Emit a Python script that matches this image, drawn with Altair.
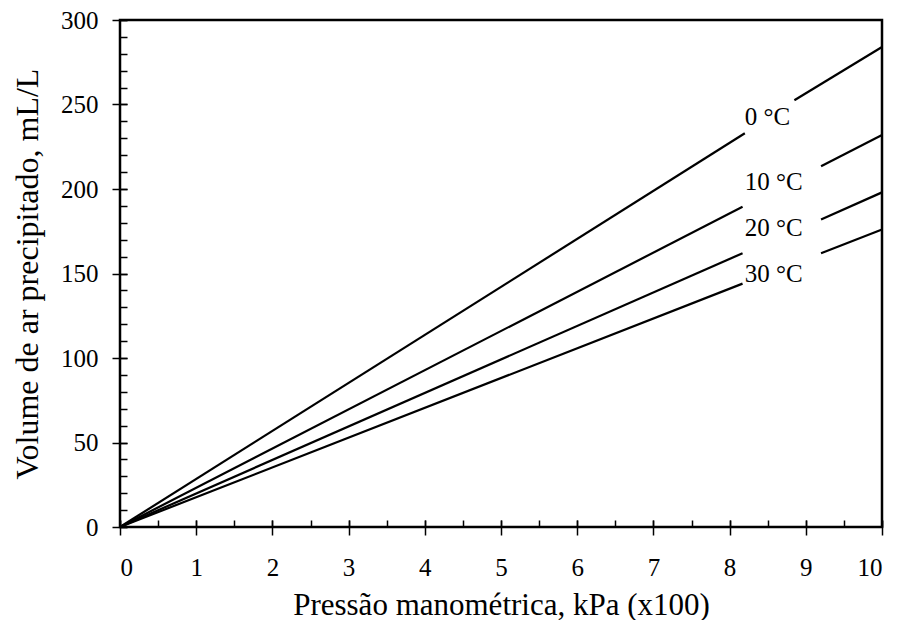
import altair as alt
import pandas as pd

# ---- data ----
series = ["0 °C", "10 °C", "20 °C", "30 °C"]
# each line is drawn in two pieces, broken where its label sits
seg_a_x = [[0, 8.20], [0, 8.17], [0, 8.17], [0, 8.17]]
seg_a_y = [[0, 233.0], [0, 189.5], [0, 162.0], [0, 144.0]]
seg_b_x = [[8.85, 10], [9.20, 10], [9.20, 10], [9.20, 10]]
seg_b_y = [[252.5, 284.0], [213.5, 232.0], [182.0, 198.0], [162.0, 176.0]]

label_x = [8.2, 8.2, 8.2, 8.2]
label_y = [238.0, 199.6, 171.9, 144.7]

x_major = list(range(0, 11))
x_minor = [i * 0.5 for i in range(0, 21)]
y_major = list(range(0, 301, 50))
y_minor = list(range(0, 301, 10))

rows = []
for i, s in enumerate(series):
    for seg, xs, ys in (("a", seg_a_x[i], seg_a_y[i]), ("b", seg_b_x[i], seg_b_y[i])):
        for xv, yv in zip(xs, ys):
            rows.append({"serie": s, "seg": s + seg, "x": xv, "y": yv})
lines_df = pd.DataFrame(rows)
labels_df = pd.DataFrame({"serie": series, "x": label_x, "y": label_y})

FONT = "Liberation Serif"
xscale = alt.Scale(domain=[0, 10], nice=False, zero=False)
yscale = alt.Scale(domain=[0, 300], nice=False, zero=False)

lines = alt.Chart(lines_df).mark_line(color="black", strokeWidth=2.2).encode(
    x=alt.X("x:Q", scale=xscale, axis=alt.Axis(
        orient="bottom", values=x_major, tickSize=15, offset=-7, domain=False,
        grid=False, tickColor="black", tickWidth=1.5, labelPadding=20,
        labelFont=FONT, labelFontSize=25, labelColor="black",
        title="Pressão manométrica, kPa (x100)", titleFont=FONT,
        titleFontSize=31, titleFontWeight="normal", titleColor="black",
        titlePadding=10)),
    y=alt.Y("y:Q", scale=yscale, axis=alt.Axis(
        orient="left", values=y_major, tickSize=15, offset=-7, domain=False,
        grid=False, tickColor="black", tickWidth=1.5, labelPadding=14,
        labelFont=FONT, labelFontSize=25, labelColor="black",
        title="Volume de ar precipitado, mL/L", titleFont=FONT,
        titleFontSize=32, titleFontWeight="normal", titleColor="black",
        titlePadding=16)),
    detail="seg:N",
)

texts = alt.Chart(labels_df).mark_text(
    align="left", baseline="alphabetic", font=FONT, fontSize=25, color="black"
).encode(
    x=alt.X("x:Q", scale=xscale, axis=alt.Axis(
        orient="bottom", values=x_minor, tickSize=7, offset=-7, domain=False,
        labels=False, grid=False, title=None, tickColor="black", tickWidth=1.5)),
    y=alt.Y("y:Q", scale=yscale, axis=alt.Axis(
        orient="left", values=y_minor, tickSize=7, offset=-7, domain=False,
        labels=False, grid=False, title=None, tickColor="black", tickWidth=1.5)),
    text="serie:N",
)

chart = alt.layer(lines, texts).resolve_axis(x="independent", y="independent").properties(
    width=762, height=507,
    autosize=alt.AutoSizeParams(type="none"),
    padding={"left": 112, "top": 12, "right": 11, "bottom": 93},
).configure_view(stroke="black", strokeWidth=2.5)

chart.save("out.html", embed_options={"renderer": "svg", "actions": False})
